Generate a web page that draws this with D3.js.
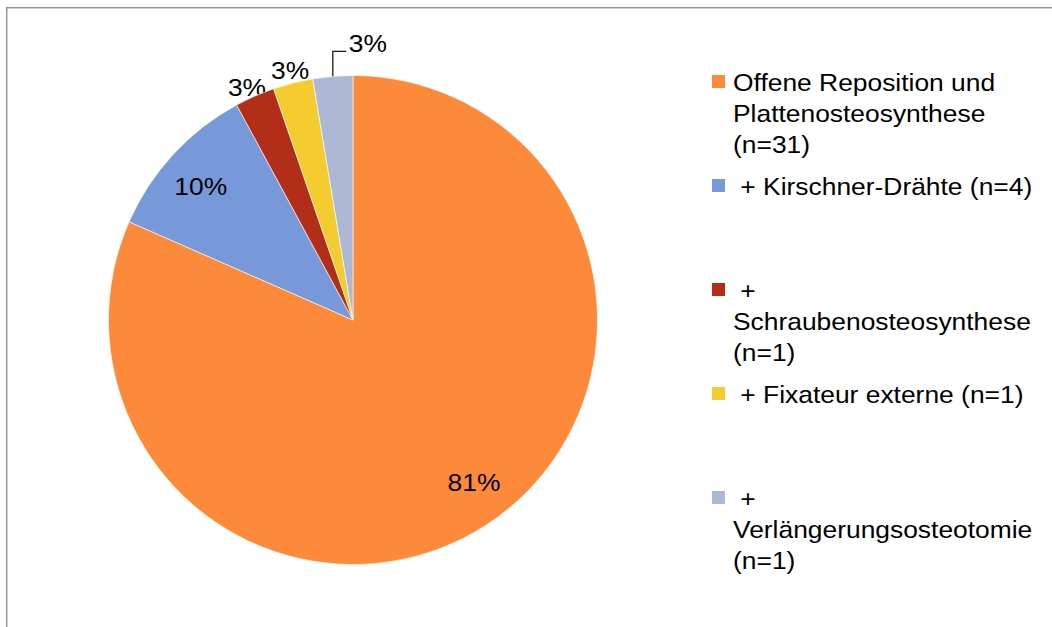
<!DOCTYPE html>
<html lang="de">

<head>
    <meta charset="UTF-8">
    <title>Versorgung</title>
    <script src="https://d3js.org/d3.v7.min.js"></script>
    <style>
        body {
            margin: 0;
            padding: 0;
            background: #fff;
        }

        svg text {
            font-family: "Liberation Sans", Arial, sans-serif;
            font-size: 24px;
            fill: #000;
            white-space: pre;
        }
    </style>
</head>

<body>
    <div id="chart"></div>

    <script>
        // data
        const categories = [
            "Offene Reposition und Plattenosteosynthese (n=31)",
            " + Kirschner-Drähte (n=4)",
            " + Schraubenosteosynthese (n=1)",
            " + Fixateur externe (n=1)",
            " + Verlängerungsosteotomie (n=1)"
        ];
        const counts = [31, 4, 1, 1, 1];
        const percentLabels = ["81%", "10%", "3%", "3%", "3%"];
        const legendLines = [
            ["Offene Reposition und", "Plattenosteosynthese", "(n=31)"],
            [" + Kirschner-Drähte (n=4)"],
            [" +", "Schraubenosteosynthese", "(n=1)"],
            [" + Fixateur externe (n=1)"],
            [" +", "Verlängerungsosteotomie", "(n=1)"]
        ];
        const colors = ["#fd8a3b", "#7899d9", "#b22e19", "#f5cc30", "#adb8d5"];

        const width = 1052;
        const height = 627;
        const cx = 353, cy = 320, radius = 244.5;
        const stretch = 1.1; // text in the picture is a bit wider than plain Arial

        // small hand nudges so labels land where the original placed them
        const labelNudge = [[10, -7], [-3, 4], [-3, 3], [0, 0], [0, 0]];

        const svg = d3.select("#chart")
            .append("svg")
            .attr("width", width)
            .attr("height", height);

        // chart frame (right and bottom edges run off the picture)
        svg.append("rect")
            .attr("x", 6.75)
            .attr("y", 7.75)
            .attr("width", 1060)
            .attr("height", 640)
            .attr("fill", "#fff")
            .attr("stroke", "#8a8a8a")
            .attr("stroke-width", 1.3);

        const pie = d3.pie().sort(null).value(d => d)(counts);
        const arc = d3.arc().innerRadius(0).outerRadius(radius);
        const mid = d => (d.startAngle + d.endAngle) / 2;
        const polar = (a, r) => [Math.sin(a) * r, -Math.cos(a) * r];

        const g = svg.append("g").attr("transform", `translate(${cx},${cy})`);

        function addText(sel, x, y, txt, anchor) {
            return sel.append("text")
                .attr("transform", `translate(${x},${y}) scale(${stretch},1)`)
                .attr("text-anchor", anchor || "start")
                .text(txt);
        }

        // outside labels for the small slices sit under the pie
        const outer = g.append("g");
        pie.forEach((d, i) => {
            if (i < 2 || i === 4) return;
            const [x, y] = polar(mid(d), radius + 12);
            addText(outer, x + labelNudge[i][0], y + 8 + labelNudge[i][1], percentLabels[i], "middle");
        });

        g.append("g")
            .selectAll("path")
            .data(pie)
            .enter().append("path")
            .attr("d", arc)
            .attr("fill", (d, i) => colors[i])
            .attr("stroke", "#fff")
            .attr("stroke-width", 0.6);

        // inside labels
        pie.forEach((d, i) => {
            if (i > 1) return;
            const [x, y] = polar(mid(d), radius * 0.83);
            addText(g, x + labelNudge[i][0], y + 8 + labelNudge[i][1], percentLabels[i], "middle");
        });

        // last slice: label pushed up with an elbow leader line
        const last = pie[4];
        const [lx, ly] = polar(mid(last), radius);
        g.append("path")
            .attr("d", `M${lx},${ly}V${ly - 25}H${lx + 13.5}`)
            .attr("fill", "none")
            .attr("stroke", "#1a1a1a")
            .attr("stroke-width", 1.3);
        addText(g, lx + 16, ly - 24, percentLabels[4], "start");

        // legend
        const legend = svg.append("g").attr("transform", "translate(712,91)");
        legendLines.forEach((lines, i) => {
            const item = legend.append("g").attr("transform", `translate(0,${i * 104})`);
            item.append("rect")
                .attr("x", 0)
                .attr("y", -16)
                .attr("width", 13)
                .attr("height", 13)
                .attr("fill", colors[i]);
            lines.forEach((line, j) => {
                addText(item, 21, j * 31, line, "start");
            });
        });
    </script>
</body>

</html>
